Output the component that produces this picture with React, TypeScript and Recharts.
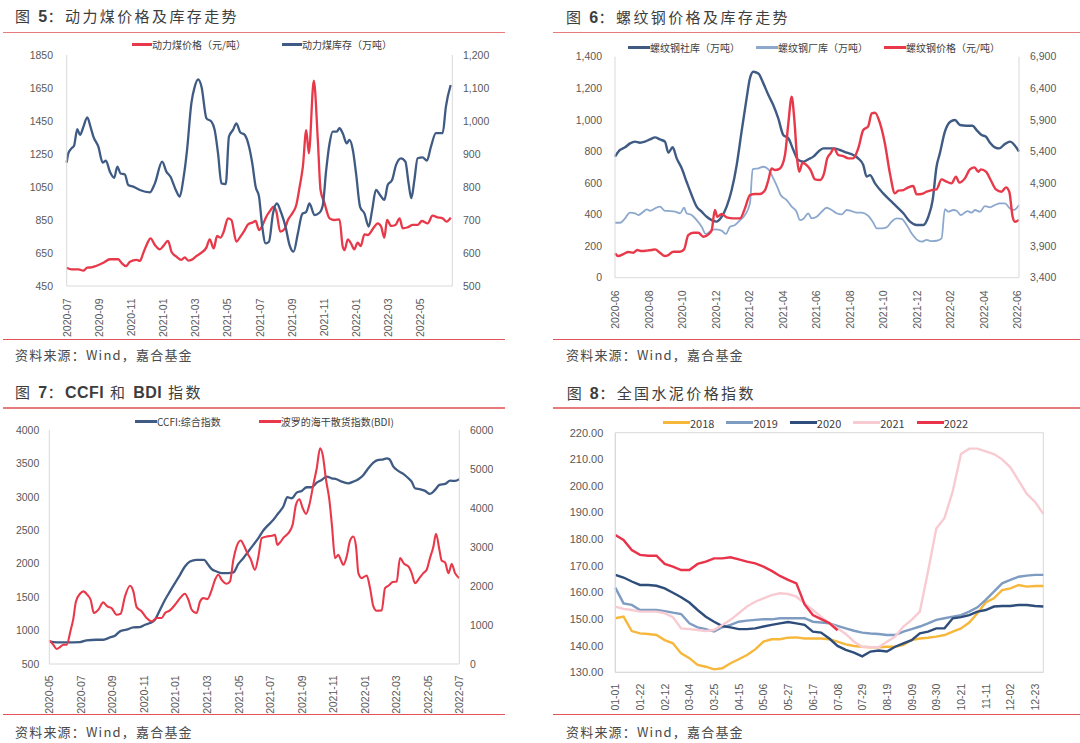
import React from 'react';
import { LineChart, Line, XAxis, YAxis, ReferenceArea } from 'recharts';

// ---------- data ----------
// charts 5-7: [months since first tick, value]
type Pt = [number, number];

const coalTicks = ['2020-07', '2020-09', '2020-11', '2021-01', '2021-03', '2021-05', '2021-07', '2021-09', '2021-11', '2022-01', '2022-03', '2022-05'];
const coalPrice: Pt[] = [[0,561],[0.3,551],[0.73,551],[1.03,543],[1.28,561],[1.55,563],[1.86,573],[2.28,591],[2.69,612],[3.2,612],[3.4,591],[3.69,571],[3.94,597],[4.35,608],[4.56,602],[4.76,648],[4.97,698],[5.22,739],[5.49,698],[5.8,672],[6.01,692],[6.31,723],[6.52,658],[6.83,628],[7.14,608],[7.35,624],[7.56,604],[7.76,608],[8.08,632],[8.39,652],[8.7,684],[8.9,733],[9.15,678],[9.36,753],[9.57,743],[9.77,779],[10.04,860],[10.25,850],[10.56,719],[10.81,749],[11.08,789],[11.29,824],[11.55,834],[11.76,844],[11.97,789],[12.22,826],[12.42,870],[12.67,907],[12.88,931],[13.05,901],[13.29,779],[13.56,795],[13.77,850],[14.04,890],[14.29,941],[14.5,1052],[14.7,1173],[14.91,1395],[15.07,1254],[15.38,1694],[15.63,1335],[15.8,1032],[16.05,951],[16.36,860],[16.67,850],[16.98,854],[17.18,688],[17.29,668],[17.5,733],[17.71,705],[17.9,672],[18.11,713],[18.3,692],[18.53,763],[18.74,759],[19.05,795],[19.36,830],[19.57,810],[19.77,743],[19.94,850],[20.19,814],[20.46,820],[20.72,860],[20.91,800],[21.23,806],[21.53,820],[21.84,820],[22.11,844],[22.47,830],[22.77,876],[23.09,866],[23.4,860],[23.65,840],[23.9,864]];
const coalStock: Pt[] = [[0,874],[0.1,902],[0.3,917],[0.45,924],[0.66,975],[0.83,958],[1.03,981],[1.28,1011],[1.49,981],[1.66,953],[1.97,922],[2.24,874],[2.44,880],[2.69,846],[2.96,828],[3.15,862],[3.35,841],[3.62,838],[3.83,806],[4.14,801],[4.55,791],[5.18,784],[5.49,811],[5.94,877],[6.21,846],[6.46,831],[6.79,791],[7.04,771],[7.25,821],[7.49,912],[7.76,1054],[7.97,1104],[8.18,1126],[8.39,1104],[8.7,1008],[9.01,998],[9.21,973],[9.42,902],[9.63,811],[9.9,809],[10.1,953],[10.35,973],[10.56,993],[10.81,965],[11.08,958],[11.35,922],[11.55,872],[11.76,801],[11.97,771],[12.17,680],[12.38,629],[12.59,634],[12.84,720],[13.08,750],[13.35,722],[13.62,680],[13.87,624],[14.12,604],[14.39,660],[14.66,718],[14.91,725],[15.11,750],[15.42,715],[15.73,722],[15.94,745],[16.15,851],[16.36,932],[16.56,968],[16.81,968],[16.98,978],[17.18,963],[17.43,932],[17.6,943],[17.81,912],[18.01,841],[18.26,740],[18.53,720],[18.8,680],[19.01,730],[19.25,791],[19.5,776],[19.77,761],[19.98,806],[20.25,821],[20.5,867],[20.81,887],[21.08,877],[21.28,811],[21.45,766],[21.64,821],[21.84,887],[22.15,890],[22.42,880],[22.67,922],[22.98,963],[23.4,963],[23.6,1043],[23.9,1109]];

const rebarTicks = ['2020-06', '2020-08', '2020-10', '2020-12', '2021-02', '2021-04', '2021-06', '2021-08', '2021-10', '2021-12', '2022-02', '2022-04', '2022-06'];
const rebarSocial: Pt[] = [[0,767],[0.3,809],[0.6,826],[0.9,851],[1.19,862],[1.49,855],[1.79,862],[2.09,876],[2.39,889],[2.68,876],[2.98,862],[3.18,792],[3.44,826],[3.68,756],[3.98,693],[4.27,608],[4.57,524],[4.87,450],[5.17,418],[5.47,386],[5.77,365],[6.06,355],[6.36,386],[6.66,450],[6.96,555],[7.26,714],[7.55,925],[7.85,1136],[8.05,1263],[8.25,1305],[8.55,1294],[8.85,1231],[9.15,1157],[9.44,1094],[9.74,1009],[10.04,904],[10.34,883],[10.64,809],[10.93,745],[11.23,735],[11.53,750],[11.83,767],[12.13,798],[12.43,819],[12.72,819],[13.02,819],[13.42,809],[13.82,792],[14.21,777],[14.51,756],[14.81,714],[15.01,640],[15.21,650],[15.51,598],[16,534],[16.6,471],[17.2,408],[17.6,355],[17.99,334],[18.39,334],[18.69,386],[18.95,492],[19.18,703],[19.38,788],[19.68,925],[20,988],[20.28,999],[20.58,967],[20.97,963],[21.33,963],[21.57,935],[21.87,904],[22.13,893],[22.37,855],[22.66,826],[22.92,819],[23.26,847],[23.56,862],[24.1,798]];
const rebarFactory: Pt[] = [[0,348],[0.3,348],[0.6,376],[0.89,412],[1.19,408],[1.39,397],[1.69,418],[1.89,433],[2.09,424],[2.39,439],[2.68,450],[2.98,424],[3.28,422],[3.58,418],[3.88,408],[4.12,443],[4.27,408],[4.57,397],[4.87,365],[5.17,323],[5.41,277],[5.67,292],[5.96,306],[6.36,298],[6.62,277],[6.86,323],[7.16,334],[7.46,365],[7.75,397],[8.05,471],[8.21,686],[8.55,693],[8.85,703],[9.15,686],[9.44,629],[9.68,576],[9.88,524],[10.24,492],[10.54,450],[10.83,418],[11.03,365],[11.23,372],[11.53,408],[11.73,376],[12.03,386],[12.33,418],[12.62,443],[12.92,429],[13.22,408],[13.52,401],[13.82,429],[14.11,422],[14.41,412],[14.71,412],[15.11,391],[15.41,348],[15.61,313],[15.9,313],[16.2,319],[16.5,355],[16.8,376],[17.1,372],[17.4,334],[17.69,281],[17.99,243],[18.29,228],[18.59,239],[18.89,232],[19.18,234],[19.48,249],[19.68,435],[19.88,418],[20.18,429],[20.38,424],[20.62,397],[21.03,422],[21.27,412],[21.47,429],[21.77,418],[22.07,454],[22.37,446],[22.66,460],[22.96,471],[23.26,471],[23.56,439],[23.8,429],[24.1,460]];
const rebarPrice: Pt[] = [[0,3785],[0.2,3743],[0.5,3775],[0.8,3806],[1.09,3796],[1.33,3838],[1.59,3822],[1.89,3828],[2.19,3838],[2.39,3849],[2.68,3796],[2.98,3743],[3.18,3759],[3.48,3812],[3.88,3812],[4.12,3849],[4.37,4076],[4.67,4113],[4.97,4113],[5.27,4049],[5.57,4086],[5.77,4155],[5.96,4472],[6.1,4366],[6.36,4408],[6.66,4356],[7.06,4340],[7.46,4340],[7.75,4498],[8.05,4709],[8.35,4725],[8.65,4725],[8.95,4788],[9.15,4947],[9.34,5131],[9.54,5105],[9.84,5131],[10.14,5343],[10.34,5844],[10.54,6267],[10.7,5897],[10.87,5264],[10.99,5079],[11.19,5221],[11.43,5184],[11.67,5105],[11.93,4957],[12.23,4947],[12.47,5052],[12.66,5290],[12.86,5369],[13.06,5448],[13.32,5343],[13.62,5327],[13.92,5290],[14.21,5290],[14.51,5448],[14.81,5739],[15.11,5802],[15.31,6003],[15.51,6013],[15.81,5844],[16.1,5527],[16.4,5052],[16.7,4736],[16.9,4778],[17.2,4788],[17.5,4831],[17.79,4852],[17.99,4720],[18.29,4725],[18.59,4762],[18.89,4788],[19.18,4799],[19.48,4957],[19.78,4920],[20.08,4894],[20.34,5000],[20.54,4905],[20.87,4973],[21.17,5116],[21.45,5147],[21.67,5079],[21.83,5116],[22.13,5079],[22.41,4947],[22.72,4799],[23.06,4762],[23.32,4831],[23.52,4762],[23.72,4366],[23.86,4287],[24.1,4313]];

const freightTicks = ['2020-05', '2020-07', '2020-09', '2020-11', '2021-01', '2021-03', '2021-05', '2021-07', '2021-09', '2021-11', '2022-01', '2022-03', '2022-05', '2022-07'];
const ccfi: Pt[] = [[0,838],[0.47,823],[1.1,823],[1.95,828],[2.37,853],[3,863],[3.42,863],[3.85,898],[4.16,923],[4.48,988],[4.9,1013],[5.33,1047],[5.75,1052],[6.07,1087],[6.38,1112],[6.7,1162],[7.02,1311],[7.34,1461],[7.65,1585],[7.97,1710],[8.29,1834],[8.6,1959],[8.92,2033],[9.34,2058],[9.81,2058],[10.08,1983],[10.3,1919],[10.61,1884],[10.93,1859],[11.35,1859],[11.67,1869],[11.99,1998],[12.3,2083],[12.62,2183],[12.94,2282],[13.26,2382],[13.57,2496],[13.89,2581],[14.21,2656],[14.52,2755],[14.84,2855],[15.1,2994],[15.37,2979],[15.69,3064],[16,3089],[16.32,3144],[16.64,3144],[16.96,3213],[17.27,3253],[17.59,3303],[17.91,3278],[18.22,3263],[18.54,3228],[18.96,3203],[19.28,3228],[19.6,3263],[19.92,3328],[20.23,3427],[20.55,3512],[20.87,3552],[21.19,3562],[21.4,3577],[21.57,3562],[21.82,3452],[22.13,3388],[22.45,3343],[22.77,3278],[22.98,3228],[23.19,3129],[23.51,3114],[23.83,3089],[24.14,3044],[24.46,3104],[24.74,3178],[25.1,3193],[25.42,3243],[25.73,3238],[26,3263]];
const bdi: Pt[] = [[0,606],[0.25,495],[0.47,384],[0.68,435],[0.89,495],[1.1,495],[1.35,862],[1.52,1152],[1.69,1604],[1.95,1801],[2.16,1861],[2.41,1775],[2.62,1647],[2.83,1306],[3.11,1391],[3.42,1579],[3.68,1476],[3.95,1434],[4.27,1263],[4.52,1289],[4.8,1733],[5.12,2006],[5.33,1861],[5.54,1459],[5.86,1348],[6.17,1178],[6.49,1092],[6.81,1178],[7.12,1178],[7.34,1306],[7.65,1374],[7.97,1519],[8.29,1690],[8.6,1801],[8.82,1647],[9.03,1391],[9.34,1306],[9.56,1604],[9.77,1690],[10.02,1664],[10.3,1903],[10.51,2159],[10.72,2287],[10.93,2159],[11.25,2057],[11.46,2116],[11.67,2671],[11.88,3013],[12.14,3166],[12.35,3030],[12.56,2842],[12.77,2688],[13.04,2415],[13.26,2757],[13.47,3226],[13.78,3269],[14.1,3286],[14.31,3311],[14.46,3055],[14.63,3115],[14.88,3252],[15.16,3354],[15.43,3568],[15.64,4080],[15.86,4225],[16.07,3994],[16.28,3849],[16.49,4080],[16.74,4592],[16.96,5018],[17.17,5531],[17.34,5360],[17.55,4720],[17.76,4208],[17.93,3525],[18.12,2714],[18.33,2799],[18.48,2671],[18.65,2543],[18.86,2757],[19.07,3166],[19.28,3269],[19.45,3013],[19.6,2330],[19.81,2202],[20.13,2270],[20.34,1946],[20.55,1476],[20.76,1365],[21.08,1374],[21.29,1946],[21.5,2006],[21.78,2100],[22.03,2116],[22.24,2714],[22.5,2569],[22.77,2501],[22.98,2330],[23.19,2074],[23.47,2202],[23.72,2330],[23.93,2415],[24.14,2714],[24.36,3013],[24.52,3337],[24.74,2927],[24.88,2654],[25.1,2603],[25.31,2330],[25.52,2560],[25.73,2330],[26,2202]];

// chart 8: weekly dates, one value per week
const weeks = ['01-01','01-08','01-15','01-22','01-29','02-05','02-12','02-19','02-26','03-04','03-11','03-18','03-25','04-01','04-08','04-15','04-22','04-29','05-06','05-13','05-20','05-27','06-03','06-10','06-17','06-24','07-01','07-08','07-15','07-22','07-29','08-05','08-12','08-19','08-26','09-02','09-09','09-16','09-23','09-30','10-07','10-14','10-21','10-28','11-04','11-11','11-18','11-25','12-02','12-09','12-16','12-23','12-30'];
const c2018 = [150.3,150.9,145.5,144.6,144.4,144.0,142.1,140.9,137.1,135.3,132.8,132.1,131.1,131.5,133.4,134.9,136.5,138.6,141.5,142.4,142.4,143.0,143.1,142.7,142.7,142.7,142.4,141.5,140.5,139.9,139.6,139.4,139.4,139.6,139.6,140.3,142.1,142.7,143.0,143.4,144.0,145.3,146.5,148.7,152.2,156.2,157.8,160.9,161.5,162.8,162.2,162.4,162.4];
const c2019 = [161.8,155.9,155.3,153.4,153.4,153.4,153.0,152.4,151.9,148.4,146.9,146.2,145.3,146.9,147.8,149.0,149.4,149.7,149.9,149.9,150.3,150.3,150.3,150.3,149.0,148.7,148.4,147.4,146.5,145.6,144.9,144.6,144.4,144.0,144.0,145.3,146.2,147.2,148.4,149.7,150.3,150.9,151.5,152.8,154.4,157.2,160.3,163.4,164.7,165.9,166.3,166.6,166.6];
const c2020 = [166.6,165.6,164.1,162.8,162.8,162.5,161.5,159.9,158.2,156.2,153.4,150.9,149.0,147.4,146.9,146.2,146.2,146.5,147.2,147.8,148.4,148.9,148.4,147.8,145.3,144.9,142.7,139.9,138.4,137.4,136.0,137.8,138.2,137.8,139.6,140.9,142.1,144.6,145.3,146.5,146.5,150.3,150.7,151.5,152.8,153.4,154.7,154.9,154.9,155.3,155.3,154.9,154.7];
const c2021 = [154.7,153.8,153.4,152.8,152.8,152.8,152.2,150.7,146.5,146.2,145.9,145.5,145.9,147.8,149.7,152.2,154.7,156.5,157.8,159.0,159.7,159.4,158.4,155.9,153.4,150.9,148.4,146.5,144.4,141.5,139.6,139.4,139.4,141.5,143.4,147.2,149.7,152.8,168,184,188,198,212,214,214,213,212,210,207,202,197,194,189.5];
const c2022 = [181.6,179.7,175.9,174.1,173.8,173.8,170.7,169.7,168.4,168.4,170.7,171.6,172.8,172.8,173.2,172.4,171.6,170.9,169.7,168.1,166.2,164.7,163.4,155.5,151.5,150.0,148.5,145.8];

// ---------- styles ----------
const NUM_FONT = '"Liberation Sans", Arial, sans-serif';
const CJK_FONT = '"Noto Sans CJK SC", "Liberation Sans", sans-serif';
const TICK_GRAY = '#595959';
const AXIS_GRAY = '#D9D9D9';
const RED = '#E8394A';
const NAVY = '#3F5B83';
const LIGHT_BLUE = '#8DA8CD';

const rows = (pts: Pt[]) => pts.map(([t, v]) => ({ t, v }));
const comma = (v: number) => v.toLocaleString('en-US');
const tickStyle = { fontSize: 10.5, fill: TICK_GRAY, fontFamily: NUM_FONT };

const verticalTick = (label: (v: any) => string, dy: number) => (props: any) => {
  const { x, y, payload } = props;
  return (
    <text
      transform={`translate(${x},${y + dy}) rotate(-90)`}
      textAnchor="end"
      dominantBaseline="central"
      fontSize={10.5}
      fill={TICK_GRAY}
      fontFamily={NUM_FONT}
    >
      {label(payload.value)}
    </text>
  );
};

// latin runs in titles are set bold, the CJK runs regular
const Title = ({ x, y, text }: { x: number; y: number; text: string }) => (
  <div style={{ position: 'absolute', left: x, top: y - 10, height: 20, lineHeight: '20px', fontSize: 15, letterSpacing: 2.4, color: '#3D3D3D', fontFamily: CJK_FONT, whiteSpace: 'nowrap' }}>
    {text.split(/([A-Za-z0-9]+)/).map((part, i) =>
      /^[A-Za-z0-9]+$/.test(part)
        ? <span key={i} style={{ fontFamily: NUM_FONT, fontWeight: 700, fontSize: 16, letterSpacing: 0.5 }}>{part}</span>
        : <span key={i}>{part}</span>
    )}
  </div>
);

const Rule = ({ x, y, w, color }: { x: number; y: number; w: number; color: string }) => (
  <div style={{ position: 'absolute', left: x, top: y, width: w, height: 1.5, background: color }} />
);

const Source = ({ x, y }: { x: number; y: number }) => (
  <div style={{ position: 'absolute', left: x, top: y - 9, height: 18, lineHeight: '18px', fontSize: 13, letterSpacing: 1.2, color: '#4A4A4A', fontFamily: CJK_FONT, whiteSpace: 'nowrap' }}>
    资料来源：Wind，嘉合基金
  </div>
);

type LegendItem = { label: string; color: string };
const LegendRow = ({ x, y, items, gap, swatch, thick, fontSize }: { x: number; y: number; items: LegendItem[]; gap: number; swatch: number; thick: number; fontSize: number }) => (
  <div style={{ position: 'absolute', left: x, top: y - 8, height: 16, display: 'flex', alignItems: 'center', whiteSpace: 'nowrap', fontFamily: CJK_FONT, fontSize, color: '#404040' }}>
    {items.map((it, i) => (
      <div key={i} style={{ display: 'flex', alignItems: 'center', marginLeft: i ? gap : 0 }}>
        <span style={{ display: 'inline-block', width: swatch, height: thick, background: it.color }} />
        <span>{it.label}</span>
      </div>
    ))}
  </div>
);

// ---------- panels ----------
const CoalChart = () => (
  <LineChart width={540} height={300} margin={{ top: 15, right: 0, bottom: 0, left: 0 }} style={{ position: 'absolute', left: 0, top: 40 }}>
    <XAxis type="number" dataKey="t" domain={[0, 24]} ticks={coalTicks.map((_, i) => i * 2)} height={54}
      tickSize={0} tickLine={false} axisLine={{ stroke: AXIS_GRAY }} interval={0}
      tick={verticalTick((v) => coalTicks[v / 2], 10.5)} />
    <YAxis yAxisId="l" width={66.7} domain={[450, 1850]} ticks={[450, 650, 850, 1050, 1250, 1450, 1650, 1850]}
      tickSize={0} tickMargin={13.7} tickLine={false} axisLine={{ stroke: AXIS_GRAY }} tick={tickStyle} />
    <YAxis yAxisId="r" orientation="right" width={87.7} domain={[500, 1200]} ticks={[500, 600, 700, 800, 900, 1000, 1100, 1200]}
      tickSize={0} tickMargin={10.7} tickLine={false} axisLine={{ stroke: AXIS_GRAY }} tick={tickStyle} tickFormatter={comma} />
    <Line yAxisId="l" data={rows(coalPrice)} dataKey="v" type="monotone" stroke={RED} strokeWidth={2.3} dot={false} isAnimationActive={false} />
    <Line yAxisId="r" data={rows(coalStock)} dataKey="v" type="monotone" stroke={NAVY} strokeWidth={2.3} dot={false} isAnimationActive={false} />
  </LineChart>
);

const RebarChart = () => (
  <LineChart width={540} height={300} margin={{ top: 16.7, right: 0, bottom: 0, left: 0 }} style={{ position: 'absolute', left: 540, top: 40 }}>
    <XAxis type="number" dataKey="t" domain={[0, 24.1]} ticks={rebarTicks.map((_, i) => i * 2)} height={62.3}
      tickSize={0} tickLine={false} axisLine={{ stroke: AXIS_GRAY }} interval={0}
      tick={verticalTick((v) => rebarTicks[v / 2], 10.6)} />
    <YAxis yAxisId="l" width={75} domain={[0, 1400]} ticks={[0, 200, 400, 600, 800, 1000, 1200, 1400]}
      tickSize={0} tickMargin={13} tickLine={false} axisLine={{ stroke: AXIS_GRAY }} tick={tickStyle} tickFormatter={comma} />
    <YAxis yAxisId="r" orientation="right" width={61} domain={[3400, 6900]} ticks={[3400, 3900, 4400, 4900, 5400, 5900, 6400, 6900]}
      tickSize={0} tickMargin={11} tickLine={false} axisLine={{ stroke: AXIS_GRAY }} tick={tickStyle} tickFormatter={comma} />
    <Line yAxisId="l" data={rows(rebarSocial)} dataKey="v" type="monotone" stroke={NAVY} strokeWidth={2.4} dot={false} isAnimationActive={false} />
    <Line yAxisId="l" data={rows(rebarFactory)} dataKey="v" type="monotone" stroke={LIGHT_BLUE} strokeWidth={1.8} dot={false} isAnimationActive={false} />
    <Line yAxisId="r" data={rows(rebarPrice)} dataKey="v" type="monotone" stroke={RED} strokeWidth={2.4} dot={false} isAnimationActive={false} />
  </LineChart>
);

const FreightChart = () => (
  <LineChart width={540} height={330} margin={{ top: 20, right: 0, bottom: 0, left: 0 }} style={{ position: 'absolute', left: 0, top: 410 }}>
    <XAxis type="number" dataKey="t" domain={[0, 26]} ticks={freightTicks.map((_, i) => i * 2)} height={76}
      tickSize={0} tickLine={false} axisLine={{ stroke: AXIS_GRAY }} interval={0}
      tick={verticalTick((v) => freightTicks[v / 2], 9.3)} />
    <YAxis yAxisId="l" width={49.3} domain={[500, 4000]} ticks={[500, 1000, 1500, 2000, 2500, 3000, 3500, 4000]}
      tickSize={0} tickMargin={10} tickLine={false} axisLine={{ stroke: AXIS_GRAY }} tick={tickStyle} />
    <YAxis yAxisId="r" orientation="right" width={80.7} domain={[0, 6000]} ticks={[0, 1000, 2000, 3000, 4000, 5000, 6000]}
      tickSize={0} tickMargin={10.7} tickLine={false} axisLine={{ stroke: AXIS_GRAY }} tick={tickStyle} />
    <Line yAxisId="l" data={rows(ccfi)} dataKey="v" type="monotone" stroke={NAVY} strokeWidth={2.3} dot={false} isAnimationActive={false} />
    <Line yAxisId="r" data={rows(bdi)} dataKey="v" type="monotone" stroke={RED} strokeWidth={2.1} dot={false} isAnimationActive={false} />
  </LineChart>
);

const cementSeries = [
  { key: 'y2018', name: '2018', values: c2018, color: '#F7B73B' },
  { key: 'y2019', name: '2019', values: c2019, color: '#7E9CC2' },
  { key: 'y2020', name: '2020', values: c2020, color: '#2E4D7A' },
  { key: 'y2021', name: '2021', values: c2021, color: '#F8CBD3' },
  { key: 'y2022', name: '2022', values: c2022, color: '#E8334A' },
];
const cementData = weeks.map((w, i) => {
  const row: Record<string, any> = { week: w };
  cementSeries.forEach((s) => { row[s.key] = s.values[i]; });
  return row;
});

const CementChart = () => (
  <LineChart width={540} height={330} data={cementData} margin={{ top: 22.7, right: 36.7, bottom: 0, left: 0 }} style={{ position: 'absolute', left: 540, top: 410 }}>
    <ReferenceArea x1="01-01" x2="12-30" y1={130} y2={220} fill="none" stroke={AXIS_GRAY} strokeWidth={1} />
    <XAxis dataKey="week" height={67.7} interval={2} tickSize={0} tickLine={false} axisLine={{ stroke: AXIS_GRAY }}
      tick={verticalTick((v) => String(v), 9.4)} />
    <YAxis width={75.3} domain={[130, 220]} ticks={[130, 140, 150, 160, 170, 180, 190, 200, 210, 220]}
      tickSize={0} tickMargin={12} tickLine={false} axisLine={{ stroke: AXIS_GRAY }} tick={{ ...tickStyle, fontSize: 11 }}
      tickFormatter={(v: number) => v.toFixed(2)} />
    {cementSeries.map((s) => (
      <Line key={s.key} dataKey={s.key} name={s.name} type="linear" stroke={s.color} strokeWidth={2.4} dot={false} isAnimationActive={false} />
    ))}
  </LineChart>
);

export default function App() {
  return (
    <div style={{ position: 'absolute', left: 0, top: 0, width: 1080, height: 743, background: '#fff', overflow: 'hidden' }}>
      <Title x={15} y={15.5} text="图 5：动力煤价格及库存走势" />
      <Title x={566} y={16.5} text="图 6：螺纹钢价格及库存走势" />
      <Title x={15} y={391.7} text="图 7：CCFI 和 BDI 指数" />
      <Title x={566.7} y={392.7} text="图 8：全国水泥价格指数" />

      <Rule x={3} y={31.5} w={502} color="#E77A7A" />
      <Rule x={553} y={31.5} w={527} color="#E77A7A" />
      <Rule x={3} y={407} w={502} color="#E77A7A" />
      <Rule x={553} y={407} w={527} color="#E77A7A" />

      <CoalChart />
      <RebarChart />
      <FreightChart />
      <CementChart />

      <LegendRow x={132} y={44.5} gap={36} swatch={20} thick={2.5} fontSize={10}
        items={[{ label: '动力煤价格（元/吨）', color: RED }, { label: '动力煤库存（万吨）', color: NAVY }]} />
      <LegendRow x={628} y={47.3} gap={16} swatch={22} thick={2.5} fontSize={10}
        items={[{ label: '螺纹钢社库（万吨）', color: NAVY }, { label: '螺纹钢厂库（万吨）', color: LIGHT_BLUE }, { label: '螺纹钢价格（元/吨）', color: RED }]} />
      <LegendRow x={135} y={421.7} gap={38} swatch={22} thick={2.5} fontSize={10}
        items={[{ label: 'CCFI:综合指数', color: NAVY }, { label: '波罗的海干散货指数(BDI)', color: RED }]} />
      <LegendRow x={663} y={422.7} gap={12} swatch={27} thick={3} fontSize={11}
        items={cementSeries.map((s) => ({ label: s.name, color: s.color }))} />

      <Rule x={3} y={338.5} w={502} color="#E2545A" />
      <Rule x={553} y={338.5} w={527} color="#E2545A" />
      <Rule x={3} y={713.5} w={502} color="#E2545A" />
      <Rule x={553} y={713.5} w={527} color="#E2545A" />

      <Source x={15} y={355} />
      <Source x={566} y={355} />
      <Source x={15} y={731.5} />
      <Source x={566} y={731.5} />
    </div>
  );
}
